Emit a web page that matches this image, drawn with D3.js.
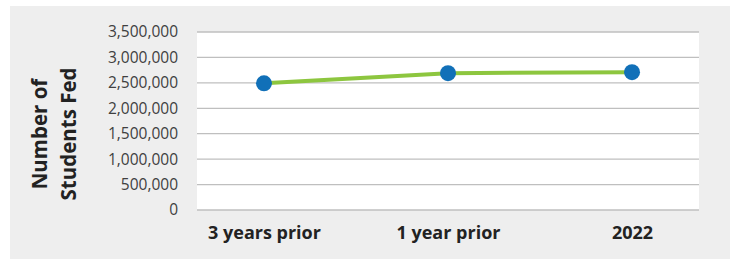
<!DOCTYPE html>
<html>
<head>
<meta charset="utf-8">
<script src="https://cdn.jsdelivr.net/npm/d3@7"></script>
<style>
  body { margin: 0; background: #fff; }
  svg { display: block; }
</style>
</head>
<body>
<div id="chart"></div>
<script>
// Kategorier och värden
var categories = ["3 years prior", "1 year prior", "2022"];
var studentsFed = [2490000, 2690000, 2710000];
var yTicks = [0, 500000, 1000000, 1500000, 2000000, 2500000, 3000000, 3500000];
var yTitle = ["Number of", "Students Fed"];

var width = 737, height = 259;
var plot = { left: 197, right: 699, top: 32, bottom: 210 };

var svg = d3.select("#chart").append("svg")
    .attr("width", width)
    .attr("height", height);

// Grå bakgrund
svg.append("rect")
    .attr("x", 10).attr("y", 6)
    .attr("width", 720).attr("height", 253)
    .attr("fill", "#eeeeee");

// Vit plotyta
svg.append("rect")
    .attr("x", plot.left).attr("y", plot.top)
    .attr("width", plot.right - plot.left)
    .attr("height", plot.bottom - plot.top)
    .attr("fill", "#ffffff");

var x = d3.scalePoint()
    .domain(categories)
    .range([plot.left, plot.right])
    .padding(0.364);

var y = d3.scaleLinear()
    .domain([0, 3500000])
    .range([plot.bottom, plot.top]);

// Rutnät
svg.append("g")
    .selectAll("line")
    .data(yTicks)
    .enter().append("line")
    .attr("x1", plot.left).attr("x2", plot.right)
    .attr("y1", d => y(d)).attr("y2", d => y(d))
    .attr("stroke", "#bfbfbf")
    .attr("stroke-width", 1.3);

// Y-axel
var yAxis = svg.append("g")
    .attr("transform", "translate(" + (plot.left - 19) + ",0)")
    .call(d3.axisLeft(y).tickValues(yTicks).tickSize(0).tickPadding(0).tickFormat(d3.format(",")));
yAxis.select(".domain").remove();
yAxis.selectAll("text")
    .attr("font-family", "Open Sans, sans-serif")
    .attr("font-size", 15.5)
    .attr("fill", "#404040");

// X-axel
var xAxis = svg.append("g")
    .attr("transform", "translate(0," + plot.bottom + ")")
    .call(d3.axisBottom(x).tickSize(0).tickPadding(0));
xAxis.select(".domain").remove();
xAxis.selectAll("text")
    .attr("dy", 29)
    .attr("font-family", "Open Sans, sans-serif")
    .attr("font-weight", "bold")
    .attr("font-size", 18)
    .attr("fill", "#222222");

// Y-titel
var title = svg.append("text")
    .attr("transform", "translate(55,134) rotate(-90)")
    .attr("text-anchor", "middle")
    .attr("font-family", "Open Sans, sans-serif")
    .attr("font-weight", "bold")
    .attr("font-size", 20.5)
    .attr("fill", "#222222");
title.selectAll("tspan")
    .data(yTitle)
    .enter().append("tspan")
    .attr("x", 0)
    .attr("dy", (d, i) => i === 0 ? "-0.4em" : "1.4em")
    .text(d => d);

// Linje
var line = d3.line()
    .x((d, i) => x(categories[i]))
    .y(d => y(d));

svg.append("path")
    .datum(studentsFed)
    .attr("d", line)
    .attr("fill", "none")
    .attr("stroke", "#8dc63f")
    .attr("stroke-width", 4);

// Punkter
svg.selectAll("circle")
    .data(studentsFed)
    .enter().append("circle")
    .attr("cx", (d, i) => x(categories[i]))
    .attr("cy", d => y(d))
    .attr("r", 8)
    .attr("fill", "#1170b8");
</script>
</body>
</html>
